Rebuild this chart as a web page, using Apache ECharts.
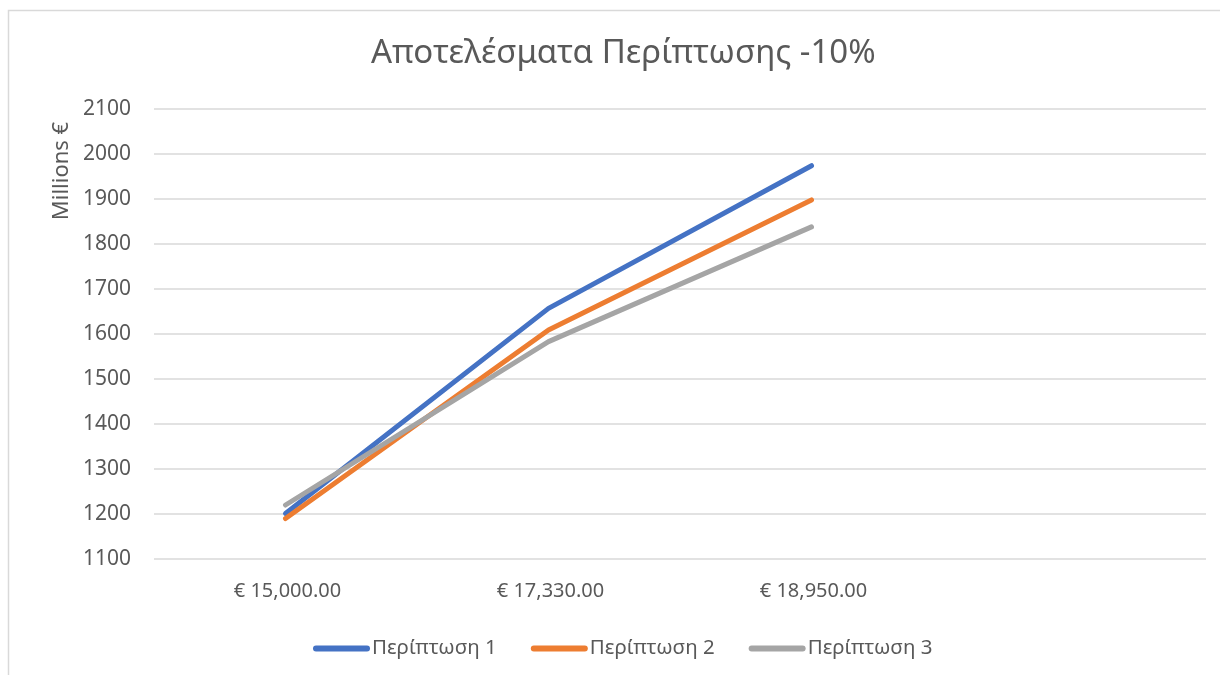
<!DOCTYPE html>
<html>
<head>
<meta charset="utf-8">
<script src="https://cdn.jsdelivr.net/npm/echarts@6/dist/echarts.min.js"></script>
<style>
  html, body { margin: 0; padding: 0; background: #ffffff; }
  #chart { width: 1220px; height: 675px; }
</style>
</head>
<body>
<div id="chart"></div>
<script>
// Price scenarios on the x axis (last slot left empty)
var categories = ['€ 15,000.00', '€ 17,330.00', '€ 18,950.00', ''];

// Results per case, in millions of euros
var case1 = [1201, 1657, 1974, null];
var case2 = [1190, 1609, 1898, null];
var case3 = [1220, 1583, 1838, null];

var seriesNames = ['Περίπτωση 1', 'Περίπτωση 2', 'Περίπτωση 3'];
var seriesColors = ['#4472C4', '#ED7D31', '#A5A5A5'];

var yMin = 1100, yMax = 2100, yStep = 100;

var textColor = '#595959';
var fontFamily = '"Noto Sans", "Open Sans", sans-serif';

// capsule-shaped legend marker, like a thick line with round ends
var legendIcon = 'path://M3,0 H54 A3,3 0 0 1 54,6 H3 A3,3 0 0 1 3,0 Z';

var chart = echarts.init(document.getElementById('chart'), null, { renderer: 'canvas' });

function lineSeries(name, data, color) {
  return {
    name: name,
    type: 'line',
    data: data,
    symbol: 'none',
    showSymbol: false,
    color: color,
    lineStyle: { width: 5, color: color, cap: 'round', join: 'round' },
    itemStyle: { color: color },
    animation: false
  };
}

chart.setOption({
  backgroundColor: '#ffffff',
  animation: false,
  graphic: [{
    type: 'rect',
    shape: { x: 8.5, y: 10.5, width: 1400, height: 800 },
    style: { fill: 'none', stroke: '#d9d9d9', lineWidth: 1.5 },
    silent: true,
    z: -10
  }, {
    type: 'text',
    x: 62,
    y: 171,
    rotation: Math.PI / 2,
    style: {
      text: 'Millions €',
      fill: textColor,
      font: '22px "Noto Sans", "Open Sans", sans-serif',
      textAlign: 'center',
      textVerticalAlign: 'middle'
    },
    silent: true
  }],
  title: {
    text: 'Αποτελέσματα Περίπτωσης -10%',
    left: 366,
    top: 32,
    textStyle: { color: textColor, fontFamily: fontFamily, fontSize: 33, fontWeight: 'normal' }
  },
  grid: { left: 154, right: 14, top: 109, bottom: 116, containLabel: false },
  legend: {
    data: seriesNames,
    left: 308,
    top: 633,
    icon: legendIcon,
    itemWidth: 57,
    itemHeight: 6,
    itemGap: 34,
    textStyle: { color: textColor, fontFamily: fontFamily, fontSize: 20.5, padding: [0, 0, 0, -3] }
  },
  xAxis: {
    type: 'category',
    data: categories,
    boundaryGap: true,
    axisLine: { show: false },
    axisTick: { show: false },
    axisLabel: { color: textColor, fontFamily: fontFamily, fontSize: 20, margin: 22, padding: [0, 0, 0, 4] },
    splitLine: { show: false }
  },
  yAxis: {
    type: 'value',
    min: yMin,
    max: yMax,
    interval: yStep,
    axisLine: { show: false },
    axisTick: { show: false },
    axisLabel: {
      color: textColor, fontFamily: fontFamily, fontSize: 21, margin: 23,
      formatter: function (v) { return String(v); }
    },
    splitLine: { lineStyle: { color: '#d9d9d9', width: 1.5 } }
  },
  series: [
    lineSeries(seriesNames[0], case1, seriesColors[0]),
    lineSeries(seriesNames[1], case2, seriesColors[1]),
    lineSeries(seriesNames[2], case3, seriesColors[2])
  ]
});
</script>
</body>
</html>
